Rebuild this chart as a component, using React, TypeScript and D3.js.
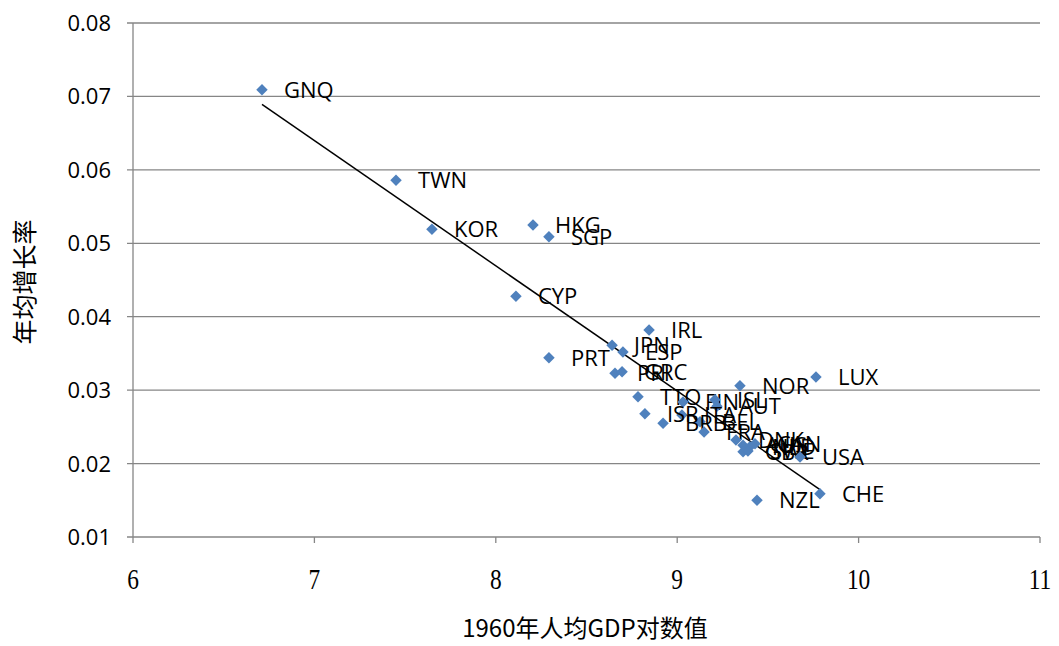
import React from "react";
import * as d3 from "d3";

// 1960 log GDP per capita vs. average annual growth rate
const countries = [
  "GNQ", "TWN", "KOR", "HKG", "SGP", "CYP", "IRL", "JPN", "ESP", "PRT", "PRI",
  "GRC", "LUX", "NOR", "TTO", "FIN", "ISL", "AUT", "ITA", "ISR", "BEL", "BRB",
  "FRA", "DNK", "AUS", "NLD", "CAN", "GBR", "SWE", "USA", "NZL", "CHE",
];
const logGdp1960 = [
  6.711, 7.45, 7.648, 8.205, 8.293, 8.111, 8.845, 8.641, 8.701, 8.293, 8.657,
  8.696, 9.765, 9.346, 8.784, 9.032, 9.208, 9.219, 9.026, 8.822, 9.126, 8.922,
  9.148, 9.324, 9.363, 9.401, 9.429, 9.363, 9.39, 9.677, 9.44, 9.787,
];
const growthRate = [
  0.0709, 0.0586, 0.0519, 0.0525, 0.0509, 0.0428, 0.0382, 0.0361, 0.0352, 0.0344, 0.0323,
  0.0325, 0.0318, 0.0306, 0.0291, 0.0284, 0.0287, 0.0278, 0.0266, 0.0268, 0.0257, 0.0255,
  0.0243, 0.0232, 0.0225, 0.0223, 0.0227, 0.0216, 0.0217, 0.0209, 0.015, 0.0159,
];
const xTicks = [6, 7, 8, 9, 10, 11];
const yTicks = [0.01, 0.02, 0.03, 0.04, 0.05, 0.06, 0.07, 0.08];

const W = 1059;
const H = 646;
const left = 133;
const right = 1040;
const top = 23;
const bottom = 537;
const grid = "#868686";
const blue = "#4F81BD";
const sans = "'Open Sans', 'Noto Sans', sans-serif";

export default function App() {
  const x = d3.scaleLinear().domain([6, 11]).range([left, right]);
  const y = d3.scaleLinear().domain([0.01, 0.08]).range([bottom, top]);

  // least squares trend line
  const mx = d3.mean(logGdp1960)!;
  const my = d3.mean(growthRate)!;
  const sxy = d3.sum(logGdp1960, (v, i) => (v - mx) * (growthRate[i] - my));
  const sxx = d3.sum(logGdp1960, (v) => (v - mx) ** 2);
  const slope = sxy / sxx;
  const icpt = my - slope * mx;
  const [x0, x1] = d3.extent(logGdp1960) as [number, number];
  const line = d3.line<number>().x((v) => x(v)).y((v) => y(icpt + slope * v));

  const diamond = d3.symbol().type(d3.symbolDiamond2).size(84)();

  return (
    <svg
      width={W}
      height={H}
      style={{ position: "absolute", left: 0, top: 0, background: "#fff" }}
    >
      {yTicks.map((t) => (
        <g key={t}>
          <line x1={left - 6} x2={right} y1={y(t)} y2={y(t)} stroke={grid} strokeWidth={1.3} />
          <text x={111} y={y(t) + 8} textAnchor="end" fontFamily={sans} fontSize={22} fill="#000">
            {t.toFixed(2)}
          </text>
        </g>
      ))}
      <line x1={left} x2={left} y1={top} y2={bottom} stroke={grid} strokeWidth={1.3} />
      {xTicks.map((t) => (
        <g key={t}>
          <line x1={x(t)} x2={x(t)} y1={bottom} y2={bottom + 6} stroke={grid} strokeWidth={1.3} />
          <g transform={`translate(${x(t)},${589}) scale(0.78,1)`}>
            <text textAnchor="middle" fontFamily="'Liberation Serif', serif" fontSize={30} fill="#000">
              {t}
            </text>
          </g>
        </g>
      ))}
      <path d={line([x0, x1]) ?? ""} stroke="#000" strokeWidth={1.5} fill="none" />
      {countries.map((c, i) => (
        <g key={c}>
          <path
            d={diamond}
            transform={`translate(${x(logGdp1960[i])},${y(growthRate[i])})`}
            fill={blue}
          />
          <text
            x={x(logGdp1960[i]) + 22}
            y={y(growthRate[i]) + 8}
            fontFamily={sans}
            fontSize={22}
            fill="#000"
          >
            {c}
          </text>
        </g>
      ))}
      <text x={585} y={637} textAnchor="middle" fontFamily="'Noto Sans CJK SC', sans-serif" fontSize={24} fill="#000">
        1960年人均GDP对数值
      </text>
      <text
        transform={`translate(34,282) rotate(-90)`}
        textAnchor="middle"
        fontFamily="'Noto Sans CJK SC', sans-serif"
        fontSize={25}
        fill="#000"
      >
        年均增长率
      </text>
    </svg>
  );
}
